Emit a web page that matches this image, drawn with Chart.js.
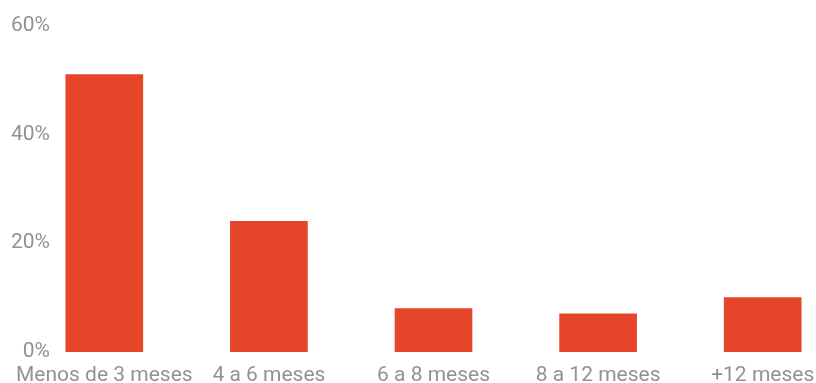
<!DOCTYPE html>
<html>
<head>
<meta charset="utf-8">
<script src="https://cdn.jsdelivr.net/npm/chart.js@4/dist/chart.umd.min.js"></script>
<style>
    html, body { margin: 0; padding: 0; background: #fff; overflow: hidden; }
    body { width: 816px; height: 383px; }
    canvas { display: block; }
</style>
</head>
<body>
<canvas id="chart" width="845" height="383"></canvas>
<script>
// Tiempo hasta conseguir empleo
const categories = ['Menos de 3 meses', '4 a 6 meses', '6 a 8 meses', '8 a 12 meses', '+12 meses'];
const shares = [51, 24, 8, 7, 10];
const yTicks = [0, 20, 40, 60];

const BAR_COLOR = '#e54528';
const TEXT_COLOR = '#909295';
const FONT = { family: 'Roboto', size: 21 };

new Chart(document.getElementById('chart').getContext('2d'), {
    type: 'bar',
    data: {
        labels: categories,
        datasets: [{
            data: shares,
            backgroundColor: BAR_COLOR,
            borderWidth: 0,
            barThickness: 77
        }]
    },
    options: {
        responsive: false,
        animation: false,
        layout: {
            padding: { left: 22, right: 0, top: 25.5, bottom: 0 }
        },
        plugins: {
            legend: { display: false },
            tooltip: { enabled: false }
        },
        scales: {
            x: {
                grid: { display: false, drawTicks: false },
                border: { display: false },
                afterFit: axis => { axis.height = 31; },
                ticks: {
                    color: TEXT_COLOR,
                    font: FONT,
                    padding: 11,
                    maxRotation: 0,
                    autoSkip: false
                }
            },
            y: {
                min: yTicks[0],
                max: yTicks[yTicks.length - 1],
                grid: { display: false, drawTicks: false },
                border: { display: false },
                // labels sit over the plot, right-aligned left of the first bar
                afterFit: axis => { axis.width = 0; },
                afterBuildTicks: axis => {
                    axis.ticks = yTicks.map(v => ({ value: v }));
                },
                ticks: {
                    color: TEXT_COLOR,
                    font: FONT,
                    mirror: true,
                    crossAlign: 'far',
                    padding: -11,
                    callback: v => v + '%'
                }
            }
        }
    }
});
</script>
</body>
</html>
